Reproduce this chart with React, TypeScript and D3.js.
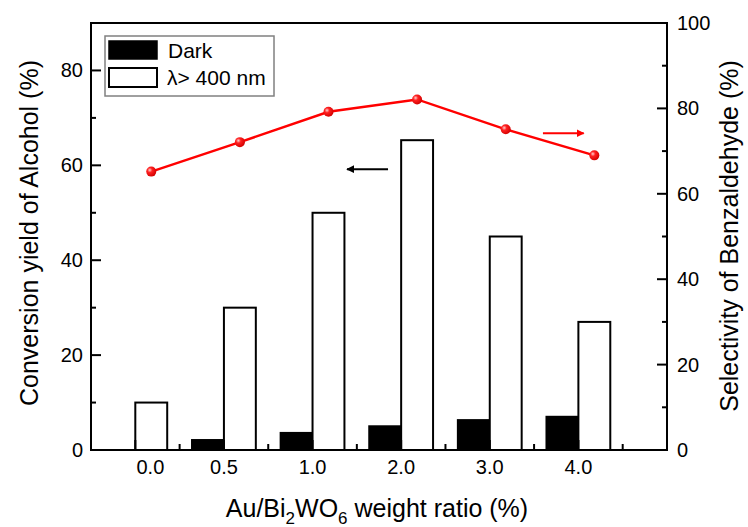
import React from "react";
import * as d3 from "d3";

const categories = ["0.0", "0.5", "1.0", "2.0", "3.0", "4.0"];
const labelOffsets = [0.17, 0, 0, 0, 0, 0];
const darkValues = [0, 2.1, 3.6, 5.0, 6.3, 7.0];
const lightValues = [10, 30, 50, 65.3, 45, 27];
const selectivity = [65.2, 72.1, 79.2, 82.1, 75.1, 69.0];
const leftTicks = [0, 20, 40, 60, 80];
const leftMinor = [10, 30, 50, 70, 90];
const rightTicks = [0, 20, 40, 60, 80, 100];
const rightMinor = [10, 30, 50, 70, 90];
const legendLabels = ["Dark", "λ> 400 nm"];

const W = 748, H = 527;
const L = 91, R = 667, T = 23, B = 450;
const FONT = "'Liberation Sans', Arial, sans-serif";

export default function App() {
  const x = d3.scaleLinear().domain([-0.5, 6.0]).range([L, R]);
  const yL = d3.scaleLinear().domain([0, 90]).range([B, T]);
  const yR = d3.scaleLinear().domain([0, 100]).range([B, T]);
  const bw = 0.36;
  const lineGen = d3
    .line<number>()
    .x((_, i) => x(i + bw / 2))
    .y((d) => yR(d));

  return (
    <svg
      width={W}
      height={H}
      style={{ position: "absolute", left: 0, top: 0, background: "#fff" }}
      fontFamily={FONT}
    >
      <defs>
        <radialGradient id="ball" cx="0.35" cy="0.35" r="0.7">
          <stop offset="0" stopColor="#ffd0d0" />
          <stop offset="0.35" stopColor="#ff2020" />
          <stop offset="1" stopColor="#d00000" />
        </radialGradient>
        <marker id="ahK" viewBox="0 0 10 10" refX="9" refY="5" markerWidth="4" markerHeight="4" orient="auto">
          <path d="M0,0 L10,5 L0,10 z" fill="#000" />
        </marker>
        <marker id="ahR" viewBox="0 0 10 10" refX="9" refY="5" markerWidth="4" markerHeight="4" orient="auto">
          <path d="M0,0 L10,5 L0,10 z" fill="#f00" />
        </marker>
      </defs>

      {/* bars */}
      {categories.map((c, i) => (
        <g key={c}>
          {darkValues[i] > 0 && (
            <rect
              x={x(i - bw)}
              y={yL(darkValues[i])}
              width={x(i) - x(i - bw)}
              height={B - yL(darkValues[i])}
              fill="#000"
              stroke="#000"
              strokeWidth={2}
            />
          )}
          <rect
            x={x(i)}
            y={yL(lightValues[i])}
            width={x(i + bw) - x(i)}
            height={B - yL(lightValues[i])}
            fill="#fff"
            stroke="#000"
            strokeWidth={2}
          />
        </g>
      ))}

      {/* selectivity line */}
      <path d={lineGen(selectivity) || ""} fill="none" stroke="#f00" strokeWidth={2.5} />
      {selectivity.map((v, i) => (
        <circle key={i} cx={x(i + bw / 2)} cy={yR(v)} r={5} fill="url(#ball)" />
      ))}

      {/* arrows */}
      <line x1={x(2.852)} x2={x(2.389)} y1={yL(59.2)} y2={yL(59.2)} stroke="#000" strokeWidth={2} markerEnd="url(#ahK)" />
      <line x1={x(4.6)} x2={x(5.06)} y1={yR(74.2)} y2={yR(74.2)} stroke="#f00" strokeWidth={2} markerEnd="url(#ahR)" />

      {/* frame */}
      <rect x={L} y={T} width={R - L} height={B - T} fill="none" stroke="#000" strokeWidth={2} />

      {/* left axis ticks */}
      {leftTicks.map((t) => (
        <g key={"l" + t}>
          <line x1={L} x2={L + 10} y1={yL(t)} y2={yL(t)} stroke="#000" strokeWidth={2} />
          <text x={L - 8} y={yL(t) + 7} textAnchor="end" fontSize={20}>
            {t}
          </text>
        </g>
      ))}
      {leftMinor.map((t) => (
        <line key={"lm" + t} x1={L} x2={L + 5} y1={yL(t)} y2={yL(t)} stroke="#000" strokeWidth={2} />
      ))}

      {/* right axis ticks */}
      {rightTicks.map((t) => (
        <g key={"r" + t}>
          <line x1={R} x2={R - 10} y1={yR(t)} y2={yR(t)} stroke="#000" strokeWidth={2} />
          <text x={R + 10} y={yR(t) + 7} textAnchor="start" fontSize={20}>
            {t}
          </text>
        </g>
      ))}
      {rightMinor.map((t) => (
        <line key={"rm" + t} x1={R} x2={R - 5} y1={yR(t)} y2={yR(t)} stroke="#000" strokeWidth={2} />
      ))}

      {/* x axis ticks */}
      {categories.map((c, i) => (
        <g key={"x" + c}>
          <line x1={x(i)} x2={x(i)} y1={B} y2={B - 10} stroke="#000" strokeWidth={2} />
          <line x1={x(i + 0.5)} x2={x(i + 0.5)} y1={B} y2={B - 6} stroke="#000" strokeWidth={2} />
          <text x={x(i + labelOffsets[i])} y={474} textAnchor="middle" fontSize={20}>
            {c}
          </text>
        </g>
      ))}

      {/* legend */}
      <rect x={105} y={36} width={169} height={60} fill="#fff" stroke="#808080" strokeWidth={1.5} />
      <rect x={109} y={41} width={48} height={18} fill="#000" stroke="#000" strokeWidth={1.5} />
      <rect x={109} y={68} width={48} height={19} fill="#fff" stroke="#000" strokeWidth={2} />
      <text x={168} y={58} fontSize={21}>{legendLabels[0]}</text>
      <text x={167} y={85} fontSize={21}>{legendLabels[1]}</text>

      {/* axis titles */}
      <text transform="translate(38,233) rotate(-90)" textAnchor="middle" fontSize={25}>
        Conversion yield of Alcohol (%)
      </text>
      <text transform="translate(738,236) rotate(-90)" textAnchor="middle" fontSize={25}>
        Selectivity of Benzaldehyde (%)
      </text>
      <text x={377} y={517} textAnchor="middle" fontSize={25}>
        Au/Bi
        <tspan fontSize={17} dy={7}>2</tspan>
        <tspan dy={-7}>WO</tspan>
        <tspan fontSize={17} dy={7}>6</tspan>
        <tspan dy={-7}> weight ratio (%)</tspan>
      </text>
    </svg>
  );
}
